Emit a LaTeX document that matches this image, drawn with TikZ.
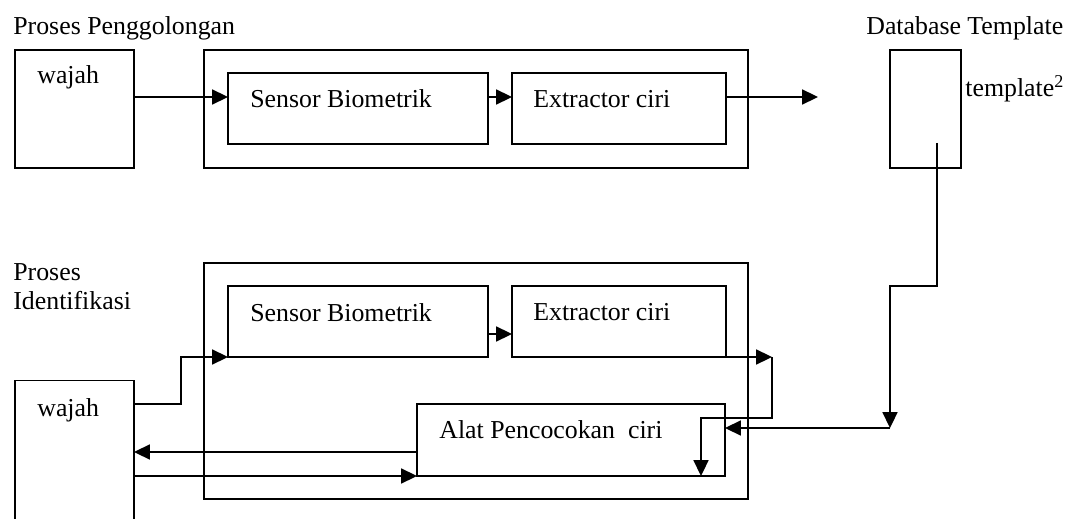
\documentclass[tikz,border=0pt]{standalone}
\usepackage{fontspec}
\setmainfont{Liberation Serif}
\usetikzlibrary{arrows.meta}
\begin{document}
\begin{tikzpicture}
 [
 x=0.2mm, y=-0.2mm,
 every node/.style={font=\fontsize{14.7}{17}\selectfont},
 blok/.style={rectangle, draw=black, line width=1pt, inner sep=0pt, outer sep=0pt},
 label/.style={anchor=base west, inner sep=0pt, align=left},
 arr/.style={line width=1pt, -{Triangle[length=9pt,width=8.5pt]}},
 line/.style={line width=1pt}
 ]
 \useasboundingbox (0,0) rectangle (1081,519);
 \clip (0,0) rectangle (1081,519);
 % proses penggolongan
 \node at (74.5,109) [blok, minimum width=23.8mm, minimum height=23.6mm] (wajahA) {};
 \node at (476,109) [blok, minimum width=108.8mm, minimum height=23.6mm] (bigA) {};
 \node at (358,108.5) [blok, minimum width=52mm, minimum height=14.2mm] (sensorA) {};
 \node at (619,108.5) [blok, minimum width=42.8mm, minimum height=14.2mm] (extractA) {};
 \node at (925.5,109) [blok, minimum width=14.2mm, minimum height=23.6mm] (dbbox) {};
 \node at (13,35) [label] (tPeng) {Proses Penggolongan};
 \node at (37,84) [label] (tWajahA) {wajah};
 \node at (250,108) [label] (tSensorA) {Sensor Biometrik};
 \node at (533,108) [label] (tExtractA) {Extractor ciri};
 \node at (866,35) [label] (tDb) {Database Template};
 \node at (965,97) [label] (tTemp) {template\textsuperscript{2}};
 % proses identifikasi
 \node at (74.5,460) [blok, minimum width=23.8mm, minimum height=31.8mm] (wajahB) {};
 \node at (476,381) [blok, minimum width=108.8mm, minimum height=47.2mm] (bigB) {};
 \node at (358,321.5) [blok, minimum width=52mm, minimum height=14.2mm] (sensorB) {};
 \node at (619,321.5) [blok, minimum width=42.8mm, minimum height=14.2mm] (extractB) {};
 \node at (571,440) [blok, minimum width=61.6mm, minimum height=14.4mm] (alat) {};
 \node at (13,310) [label] (tIdent) {Proses\\Identifikasi};
 \node at (37,416) [label] (tWajahB) {wajah};
 \node at (250,321) [label] (tSensorB) {Sensor Biometrik};
 \node at (533,320) [label] (tExtractB) {Extractor ciri};
 \node at (439,438) [label] (tAlat) {Alat Pencocokan\ \ ciri};
 % titik bantu
 \coordinate (outA) at (818,97);
 \coordinate (dbstart) at (937,143);
 \coordinate (dbstep) at (890,286);
 \coordinate (dbbend) at (890,428);
 \coordinate (inB) at (181,404);
 \coordinate (midB) at (0,334);
 \coordinate (loopR) at (772,357);
 \coordinate (loopL) at (701,418);
 \coordinate (retB) at (417,452);
 % panah
 \draw[arr] (wajahA.east |- outA) -- (sensorA.west |- outA);
 \draw[arr] (sensorA.east |- outA) -- (extractA.west |- outA);
 \draw[arr] (extractA.east |- outA) -- (outA);
 \draw[arr] (dbstart) |- (dbstep) -- (dbbend);
 \draw[arr] (dbbend) -- (alat.east |- dbbend);
 \draw[arr] (wajahB.east |- inB) -- (inB) |- (sensorB.south west);
 \draw[arr] (sensorB.east |- midB) -- (extractB.west |- midB);
 \draw[arr] (extractB.south east) -- (loopR);
 \draw[arr] (loopR) |- (loopL) -- (loopL |- alat.south);
 \draw[arr] (retB) -- (retB -| wajahB.east);
 \draw[arr] (alat.south west -| wajahB.east) -- (alat.south west);
\end{tikzpicture}
\end{document}
